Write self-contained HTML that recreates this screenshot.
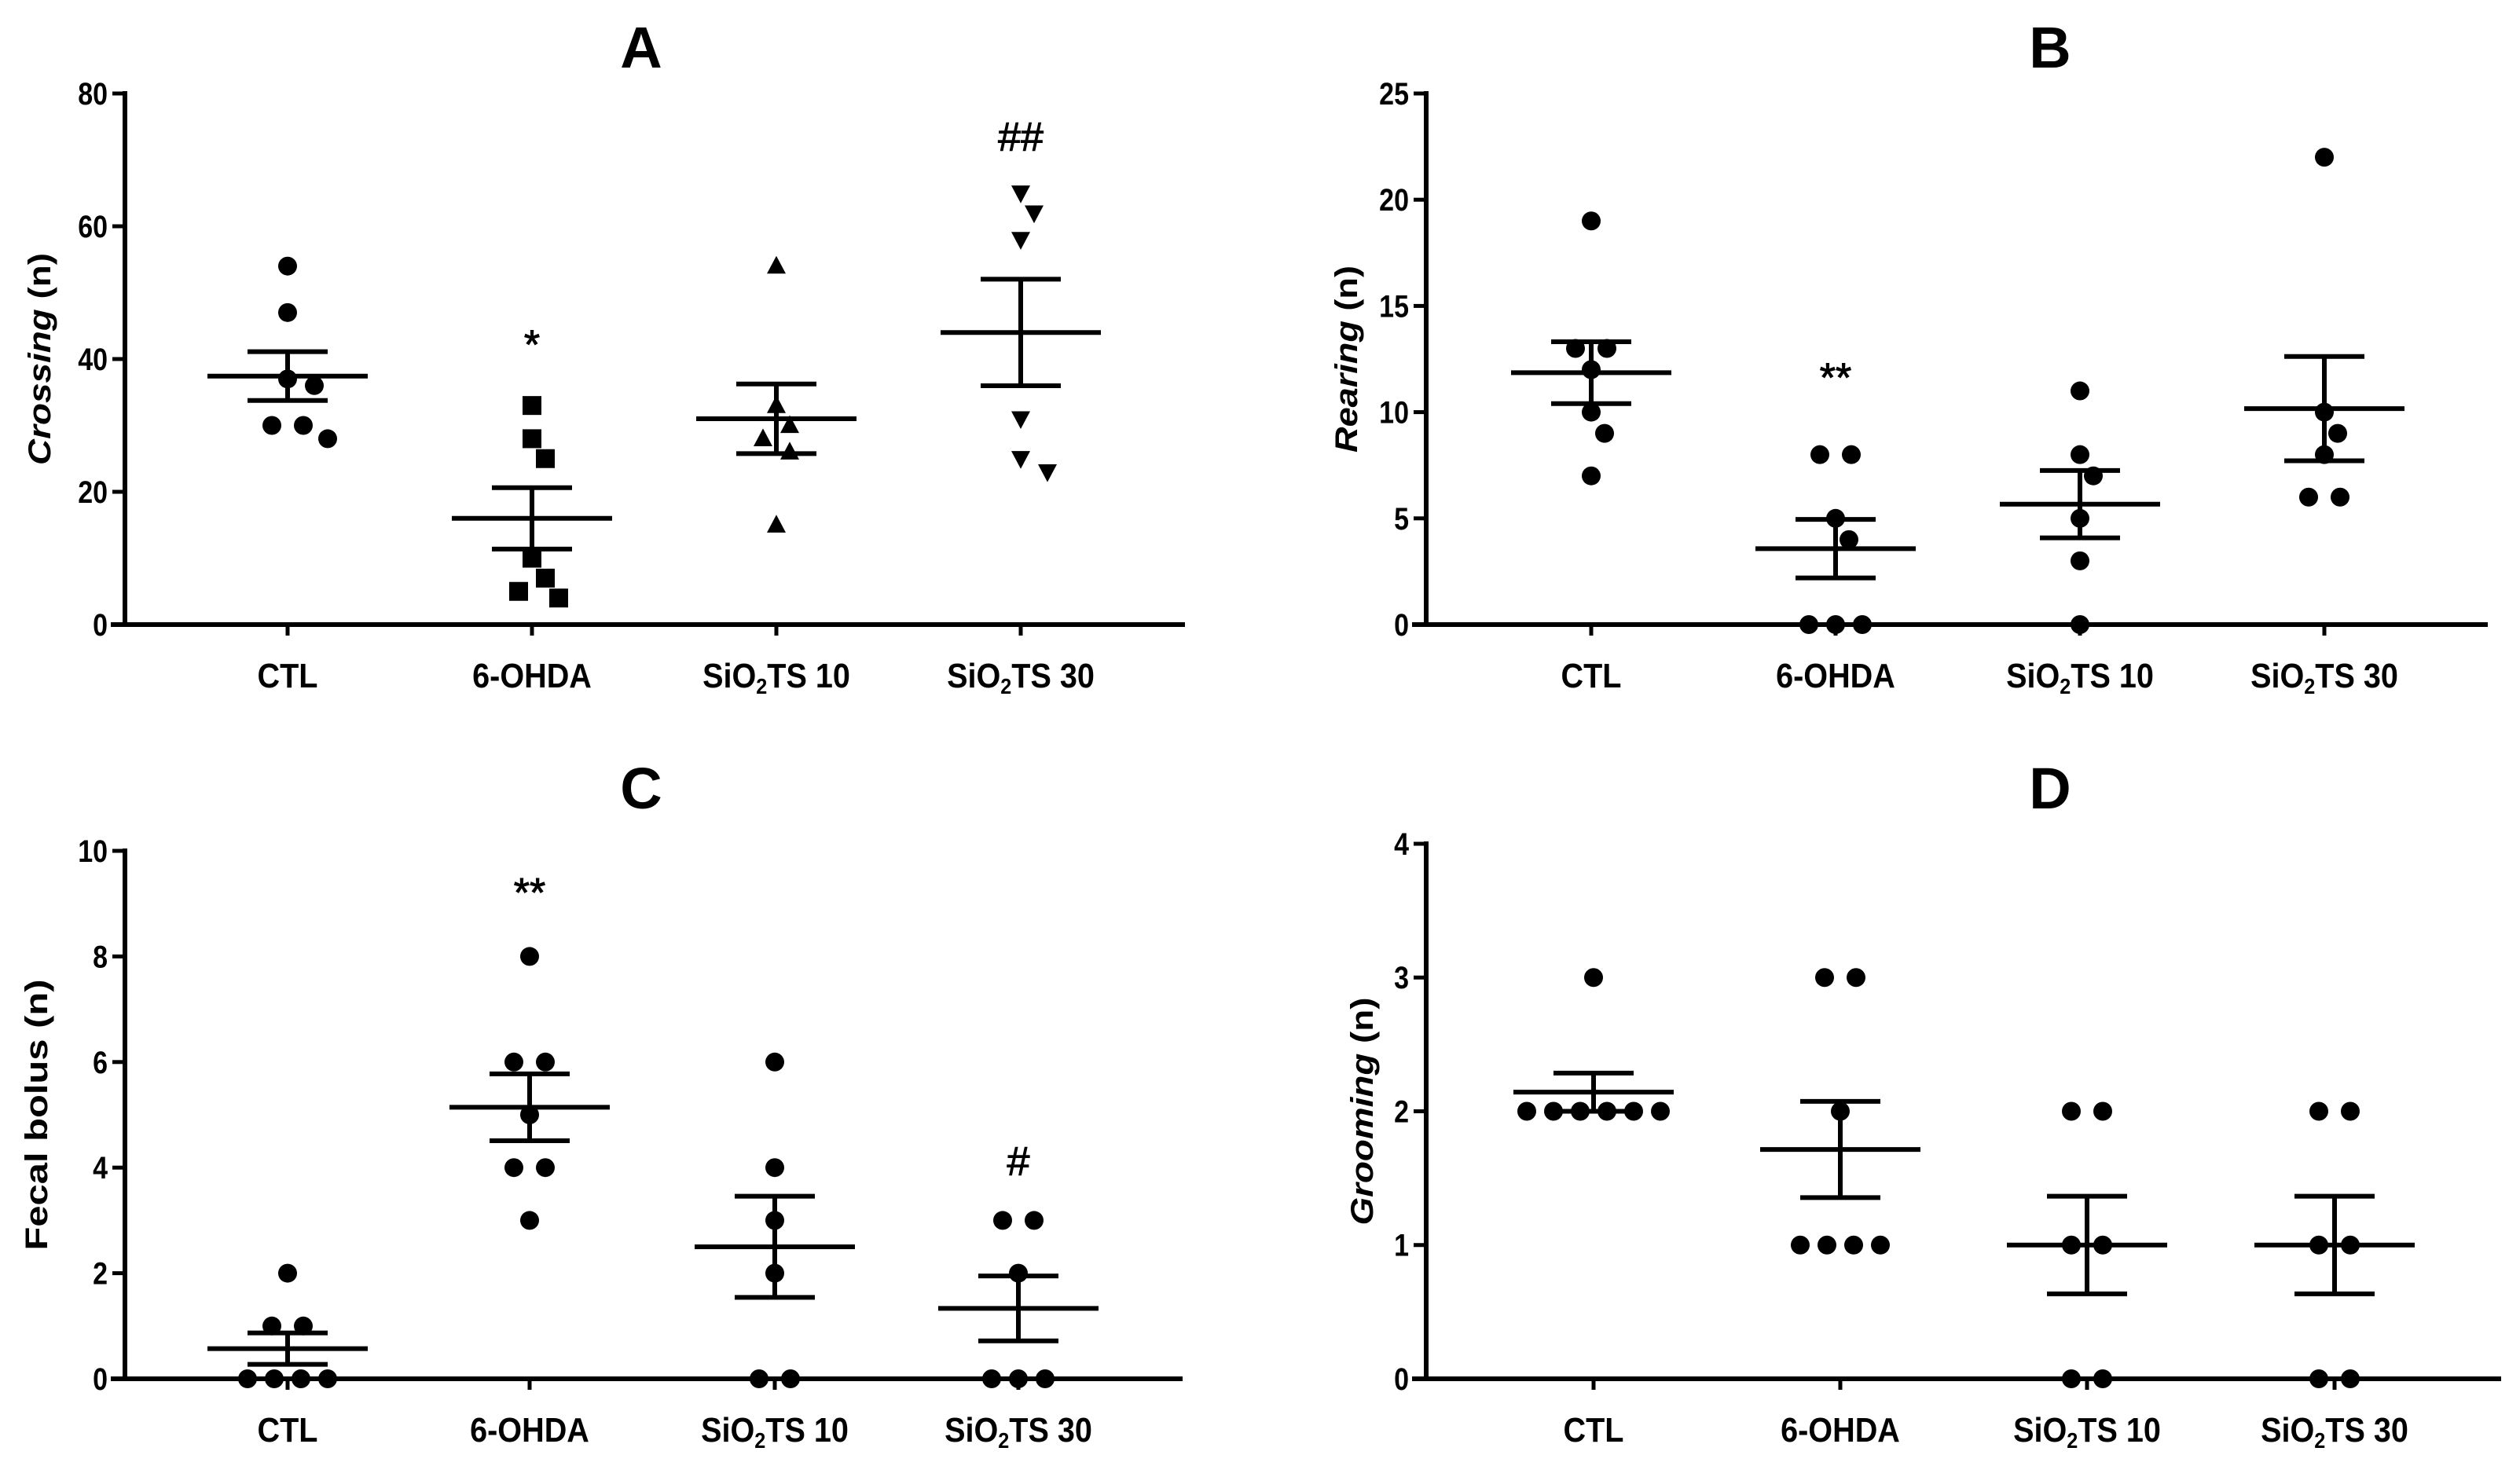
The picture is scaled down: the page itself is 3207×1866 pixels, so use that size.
<!DOCTYPE html>
<html><head><meta charset="utf-8">
<style>html,body{margin:0;padding:0;background:#fff}svg{display:block}</style>
</head><body>
<svg id="fig" width="3207" height="1866" viewBox="0 0 3207 1866" xmlns="http://www.w3.org/2000/svg" font-family="'Liberation Sans', sans-serif"></svg>
<script>
const categories = ["CTL","6-OHDA","SiO2TS 10","SiO2TS 30"];
// Panel A – Crossing
const crossingCTL = [54,47,37,36,30,30,28];
const crossing6OHDA = [33,28,25,10,7,5,4];
const crossingSi10 = [54,33,30,28,26,15];
const crossingSi30 = [65,62,58,31,25,23];
const crossingTicks = [0,20,40,60,80];
const crossingMarks = ["", "*", "", "##"];
const crossingMarkY = [0, 42.4, 0, 73.7];
// Panel B – Rearing
const rearingCTL = [19,13,13,12,10,9,7];
const rearing6OHDA = [8,8,5,4,0,0,0];
const rearingSi10 = [11,8,7,5,3,0];
const rearingSi30 = [22,10,9,8,6,6];
const rearingTicks = [0,5,10,15,20,25];
const rearingMarks = ["", "**", "", ""];
const rearingMarkY = [0, 11.7, 0, 0];
// Panel C – Fecal bolus
const fecalCTL = [2,1,1,0,0,0,0];
const fecal6OHDA = [8,6,6,5,4,4,3];
const fecalSi10 = [6,4,3,2,0,0];
const fecalSi30 = [3,3,2,0,0,0];
const fecalTicks = [0,2,4,6,8,10];
const fecalMarks = ["", "**", "", "#"];
const fecalMarkY = [0, 9.24, 0, 4.15];
// Panel D – Grooming
const groomCTL = [3,2,2,2,2,2,2];
const groom6OHDA = [3,3,2,1,1,1,1];
const groomSi10 = [2,2,1,1,0,0];
const groomSi30 = [2,2,1,1,0,0];
const groomTicks = [0,1,2,3,4];
const groomMarks = ["", "", "", ""];
const groomMarkY = [0, 0, 0, 0];

const NS = "http://www.w3.org/2000/svg";
const svg = document.getElementById("fig");
function mk(tag, attrs, parent) {
  const e = document.createElementNS(NS, tag);
  for (const k in attrs) e.setAttribute(k, attrs[k]);
  (parent || svg).appendChild(e);
  return e;
}

const panels = [
  {id:"a", title:"A", ytitle:["Crossing"," (n)"], italic:true, tl:270, series:[crossingCTL,crossing6OHDA,crossingSi10,crossingSi30], ticks:crossingTicks, marks:crossingMarks, markY:crossingMarkY,
   shapes:["circle","square","tri-up","tri-down"], ax:159, x0:159, x1:1508, top:119, bottom:795, cx:[366,677,988,1299], titleX:816, titleY:86, ytX:50, labY:875},
  {id:"b", title:"B", ytitle:["Rearing"," (n)"], italic:true, tl:238, series:[rearingCTL,rearing6OHDA,rearingSi10,rearingSi30], ticks:rearingTicks, marks:rearingMarks, markY:rearingMarkY,
   shapes:["circle","circle","circle","circle"], ax:1815, x0:1815, x1:3166, top:119, bottom:795, cx:[2025,2336,2647,2958], titleX:2609, titleY:86, ytX:1713, labY:875},
  {id:"c", title:"C", ytitle:["Fecal bolus (n)",""], italic:false, tl:345, series:[fecalCTL,fecal6OHDA,fecalSi10,fecalSi30], ticks:fecalTicks, marks:fecalMarks, markY:fecalMarkY,
   shapes:["circle","circle","circle","circle"], ax:159, x0:159, x1:1505, top:1083, bottom:1755, cx:[366,674,986,1296], titleX:816, titleY:1029, ytX:46, labY:1835},
  {id:"d", title:"D", ytitle:["Grooming"," (n)"], italic:true, tl:290, series:[groomCTL,groom6OHDA,groomSi10,groomSi30], ticks:groomTicks, marks:groomMarks, markY:groomMarkY,
   shapes:["circle","circle","circle","circle"], ax:1815, x0:1815, x1:3183, top:1074, bottom:1755, cx:[2028,2342,2656,2971], titleX:2609, titleY:1029, ytX:1733, labY:1835}
];

function drawMarker(g, shape, x, y) {
  const r = 12;
  let el;
  if (shape === "circle") el = mk("circle", {cx:x, cy:y, r:r, fill:"#000"}, g);
  else if (shape === "square") el = mk("rect", {x:x-r, y:y-r, width:2*r, height:2*r, fill:"#000"}, g);
  else if (shape === "tri-up") el = mk("polygon", {points:`${x},${y-r-1} ${x+r},${y+r*0.8} ${x-r},${y+r*0.8}`, fill:"#000"}, g);
  else el = mk("polygon", {points:`${x-r},${y-r*0.8} ${x+r},${y-r*0.8} ${x},${y+r+1}`, fill:"#000"}, g);
  
  
}

panels.forEach(p => {
  const g = mk("g", {});
  
  
  const ymax = p.ticks[p.ticks.length-1];
  const yScale = v => p.bottom - (v / ymax) * (p.bottom - p.top);

  const t = mk("text", {x:p.titleX, y:p.titleY, "font-size":74, "font-weight":"bold", "text-anchor":"middle"}, g);
  t.textContent = p.title;
  
  

  const ya = mk("line", {x1:p.ax, y1:p.top-3, x2:p.ax, y2:p.bottom+3, stroke:"#000", "stroke-width":6}, g);
  
  
  const xa = mk("line", {x1:p.x0-18, y1:p.bottom, x2:p.x1, y2:p.bottom, stroke:"#000", "stroke-width":6}, g);
  
  

  p.ticks.forEach(v => {
    const y = yScale(v);
    mk("line", {x1:p.ax-16, y1:y, x2:p.ax, y2:y, stroke:"#000", "stroke-width":5}, g);
    const tl = mk("text", {x:p.ax-22, y:y+14, "font-size":40, "font-weight":"bold", "text-anchor":"end", transform:`translate(${p.ax-22},0) scale(0.85,1) translate(${-(p.ax-22)},0)`}, g);
    tl.textContent = v;
    
    
  });

  const yt = mk("text", {x:0, y:0, "font-size":40, "font-weight":"bold", "text-anchor":"middle", transform:`translate(${p.ytX+14},${(p.top+p.bottom)/2}) rotate(-90)`, textLength:p.tl, lengthAdjust:"spacingAndGlyphs"}, g);
  const s1 = mk("tspan", {"font-style": p.italic ? "italic" : "normal"}, yt);
  s1.textContent = p.ytitle[0];
  if (p.ytitle[1]) { const s2 = mk("tspan", {}, yt); s2.textContent = p.ytitle[1]; }
  
  

  categories.forEach((c, i) => {
    const x = p.cx[i];
    mk("line", {x1:x, y1:p.bottom, x2:x, y2:p.bottom+14, stroke:"#000", "stroke-width":5}, g);
    const lab = mk("text", {x:x, y:p.labY, "font-size":44, "font-weight":"bold", "text-anchor":"middle", transform:`translate(${x},0) scale(0.9,1) translate(${-x},0)`}, g);
    if (c.startsWith("SiO2")) {
      const a = mk("tspan", {}, lab); a.textContent = "SiO";
      const b = mk("tspan", {"font-size":28, dy:8}, lab); b.textContent = "2";
      const d = mk("tspan", {dy:-8}, lab); d.textContent = c.slice(4);
    } else lab.textContent = c;
    
    

    const vals = p.series[i];
    const n = vals.length;
    const mean = vals.reduce((a,b)=>a+b,0)/n;
    const sd = Math.sqrt(vals.reduce((a,b)=>a+(b-mean)*(b-mean),0)/(n-1));
    const sem = sd/Math.sqrt(n);

    // group equal values, place symmetric; then beeswarm avoid collisions
    const sorted = vals.slice().sort((a,b)=>b-a);
    const groups = [];
    sorted.forEach(v => {
      const last = groups[groups.length-1];
      if (last && last[0] === v) last.push(v); else groups.push([v]);
    });
    const placed = [];
    const pg = mk("g", {}, g);
    
    
    const collides = (px, py) => placed.some(q => Math.hypot(q[0]-px, q[1]-py) < 30);
    groups.forEach(gr => {
      const y = yScale(gr[0]);
      if (gr.length > 1) {
        const step = gr.length === 2 ? 40 : 34;
        gr.forEach((v, k) => {
          const px = x + (k - (gr.length-1)/2) * step;
          placed.push([px, y]);
          drawMarker(pg, p.shapes[i], px, y);
        });
      } else {
        const cands = [0, 17, -17, 34, -34, 51, -51];
        let px = x;
        for (const o of cands) { if (!collides(x+o, y)) { px = x+o; break; } }
        placed.push([px, y]);
        drawMarker(pg, p.shapes[i], px, y);
      }
    });

    const eb = mk("g", {stroke:"#000", "stroke-width":6}, g);
    
    
    const ym = yScale(mean), yh = yScale(mean+sem), yl = yScale(Math.max(mean-sem, 0));
    mk("line", {x1:x-102, y1:ym, x2:x+102, y2:ym}, eb);
    mk("line", {x1:x, y1:yh, x2:x, y2:yl}, eb);
    mk("line", {x1:x-51, y1:yh, x2:x+51, y2:yh}, eb);
    mk("line", {x1:x-51, y1:yl, x2:x+51, y2:yl}, eb);

    if (p.marks[i]) {
      const m = mk("text", {x:x, y:yScale(p.markY[i])+20, "font-size":52, "text-anchor":"middle", stroke:"#000", "stroke-width":1}, g);
      m.textContent = p.marks[i];
      
      
    }
  });
});
</script>
</body></html>
